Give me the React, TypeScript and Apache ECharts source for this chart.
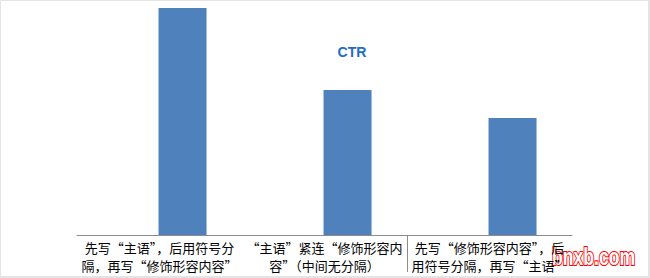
import React, { useEffect, useRef } from "react";
import * as echarts from "echarts";

const categories: string[] = [
  "先写“主语”，后用符号分\n隔，再写“修饰形容内容”",
  "“主语”紧连“修饰形容内\n容”（中间无分隔）",
  "先写“修饰形容内容”，后\n用符号分隔，再写“主语”",
];
const ctrValues: number[] = [0.227, 0.145, 0.117];
const emptyValues: (number | null)[] = [null, null, null];
const titleText = "CTR";
const watermarkText = "bnxb.com";

export default function App() {
  const ref = useRef<HTMLDivElement>(null);
  useEffect(() => {
    document.body.style.margin = "0";
    document.documentElement.lang = "zh-CN";
    const chart = echarts.init(ref.current!, null, { renderer: "svg" });
    chart.setOption({
      animation: false,
      backgroundColor: "#ffffff",
      title: {
        text: titleText,
        left: 347,
        top: 40,
        textAlign: "center",
        textStyle: {
          fontFamily: "Liberation Sans",
          fontSize: 14,
          fontWeight: "bold",
          color: "#1d6cc6",
        },
      },
      grid: [
        { left: 77, right: 78, top: 8, bottom: 43 },
        { left: 77, right: 78, top: 235, height: 37 },
      ],
      xAxis: [
        {
          type: "category",
          gridIndex: 0,
          data: categories,
          boundaryGap: true,
          axisLine: { show: true, lineStyle: { color: "#8c8c8c", width: 1 } },
          axisTick: { show: false },
          axisLabel: {
            interval: 0,
            margin: 3,
            fontFamily: "Noto Sans CJK SC",
            fontSize: 13,
            lineHeight: 18,
            color: "#000000",
            align: "center",
          },
          splitLine: { show: false },
        },
        {
          type: "category",
          gridIndex: 1,
          data: categories,
          boundaryGap: true,
          axisLine: { show: false },
          axisTick: { show: false },
          axisLabel: { show: false },
          splitLine: {
            show: true,
            showMinLine: false,
            showMaxLine: false,
            lineStyle: { color: "#8c8c8c", width: 1 },
          },
        },
      ],
      yAxis: [
        {
          type: "value",
          gridIndex: 0,
          min: 0,
          max: ctrValues[0],
          show: false,
          splitLine: { show: false },
        },
        {
          type: "value",
          gridIndex: 1,
          min: 0,
          max: 1,
          show: false,
        },
      ],
      series: [
        {
          type: "bar",
          xAxisIndex: 0,
          yAxisIndex: 0,
          data: emptyValues,
          barWidth: 48,
          barGap: "-4%",
          itemStyle: { color: "#c0504d" },
        },
        {
          type: "bar",
          xAxisIndex: 0,
          yAxisIndex: 0,
          data: ctrValues,
          barWidth: 48,
          barGap: "-4%",
          itemStyle: { color: "#4f81bd" },
        },
      ],
      graphic: [
        {
          type: "text",
          right: 14,
          bottom: 9,
          scaleX: 0.8,
          scaleY: 1.05,
          style: {
            text: watermarkText,
            fontFamily: "Liberation Sans",
            fontSize: 22,
            fontWeight: "bold",
            fill: "#ffffff",
            stroke: "#ff0000",
            lineWidth: 2,
          },
        },
      ],
    });
    return () => chart.dispose();
  }, []);
  return (
    <div style={{ position: "absolute", left: 0, top: 0, width: 650, height: 278 }}>
      <div ref={ref} style={{ position: "absolute", left: 0, top: 0, width: 650, height: 278 }} />
      <div
        style={{
          position: "absolute",
          left: 0,
          top: 0,
          width: 650,
          height: 278,
          boxSizing: "border-box",
          borderTop: "1px solid #e4e4e4",
          borderLeft: "1px solid #e4e4e4",
          borderRight: "2px solid #e4e4e4",
          borderBottom: "2px solid #e4e4e4",
          pointerEvents: "none",
        }}
      />
    </div>
  );
}
